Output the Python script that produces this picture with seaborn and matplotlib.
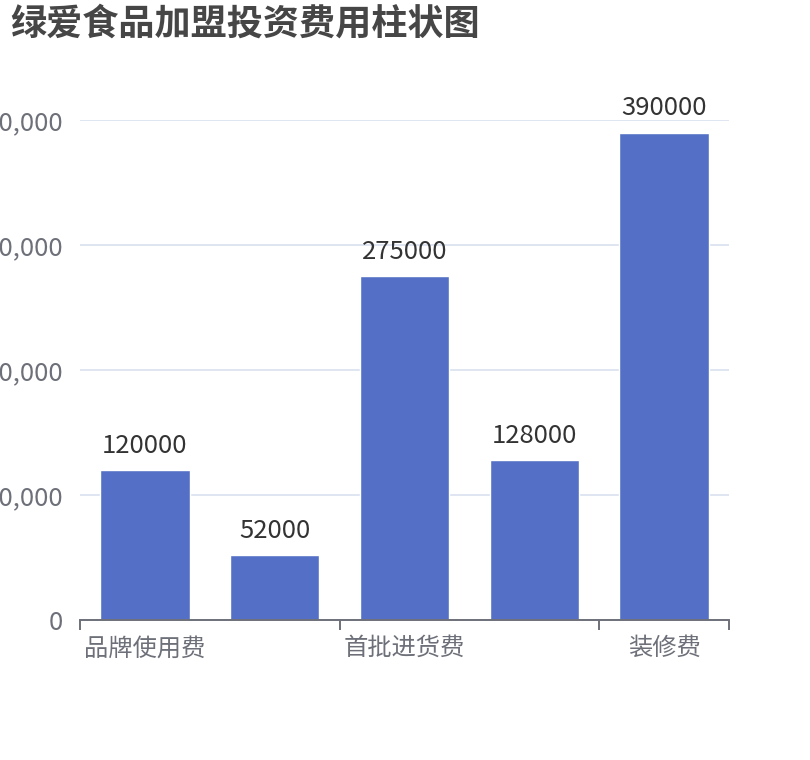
import numpy as np
import pandas as pd
import seaborn as sns
import matplotlib.pyplot as plt
from matplotlib.ticker import FuncFormatter, FixedLocator

# 数据
categories = ["品牌使用费", "加盟费", "首批进货费", "设备费", "装修费"]
values = [120000, 52000, 275000, 128000, 390000]
shown_labels = ["品牌使用费", "", "首批进货费", "", "装修费"]

sns.set_theme(style="white")
plt.rcParams["font.family"] = ["Noto Sans CJK SC", "DejaVu Sans"]

df = pd.DataFrame({"项目": categories, "费用": values})

fig = plt.figure(figsize=(8.1, 7.6), dpi=100)
ax = fig.add_axes([80 / 810, 140 / 760, 649 / 810, 500 / 760])

sns.barplot(data=df, x="项目", y="费用", color="#5470c6", saturation=1,
            width=0.69, ax=ax, zorder=3)

ax.set_ylim(0, 400000)
ax.set_xlim(-0.5, len(categories) - 0.5)
ax.yaxis.set_major_locator(FixedLocator([0, 100000, 200000, 300000, 400000]))
ax.yaxis.set_major_formatter(FuncFormatter(lambda v, p: f"{int(v):,}"))
ax.grid(axis="y", color="#E0E6F1", linewidth=1.4, zorder=0)
ax.set_axisbelow(True)

for s in ["left", "right", "top"]:
    ax.spines[s].set_visible(False)
ax.spines["bottom"].set_color("#6E7079")
ax.spines["bottom"].set_linewidth(1.4)
ax.spines["bottom"].set_zorder(5)

ax.set_xticks(range(len(categories)))
ax.set_xticklabels(shown_labels)
ax.tick_params(axis="x", which="major", bottom=True, length=0, pad=11,
               labelsize=17.5, labelcolor="#6E7079")
ax.set_xticks([-0.5, 1.5, 3.5, 4.5], minor=True)
ax.tick_params(axis="x", which="minor", bottom=True, length=7, width=1.4,
               color="#6E7079", direction="out")
ax.tick_params(axis="y", length=0, pad=12, labelsize=18.5, labelcolor="#6E7079")

ax.set_xlabel("")
ax.set_ylabel("")

for i, v in enumerate(values):
    ax.annotate(str(v), (i, v), xytext=(0, 8), textcoords="offset points",
                ha="center", va="bottom", fontsize=18.5, color="#333333")

fig.text(10 / 810, 1 - 6 / 760, "绿爱食品加盟投资费用柱状图", ha="left", va="top",
         fontsize=26, fontweight="bold", color="#464646")

fig.savefig("out.png", dpi=100)
